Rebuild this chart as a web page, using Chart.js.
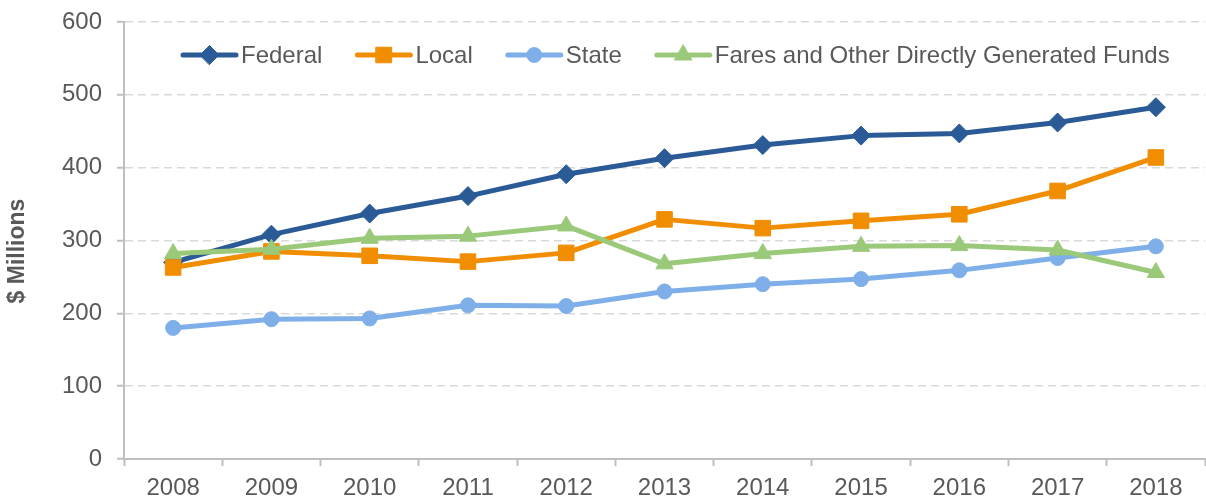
<!DOCTYPE html>
<html>
<head>
<meta charset="utf-8">
<script src="https://cdn.jsdelivr.net/npm/chart.js@4.4.0/dist/chart.umd.min.js"></script>
<style>
  body { margin: 0; background: #fff; }
  canvas { display: block; }
</style>
</head>
<body>
<canvas id="myChart" width="1206" height="499"></canvas>
<script>
var years = ['2008', '2009', '2010', '2011', '2012', '2013', '2014', '2015', '2016', '2017', '2018'];
var federal = [270, 308, 337, 361, 391, 413, 431, 444, 447, 462, 483];
var local = [263, 285, 279, 271, 283, 329, 317, 327, 336, 368, 414];
var state = [180, 192, 193, 211, 210, 230, 240, 247, 259, 276, 292];
var fares = [282, 288, 303, 306, 320, 268, 282, 292, 293, 287, 256];
var y_ticks = [0, 100, 200, 300, 400, 500, 600];

var font_family = '"Liberation Sans", Arial, sans-serif';
var text_color = '#595959';
var axis_color = '#bfbfbf';

function series(label, data, color, style, radius, order) {
    return {
        label: label,
        data: data,
        borderColor: color,
        backgroundColor: color,
        borderWidth: 5,
        borderCapStyle: 'round',
        borderJoinStyle: 'round',
        pointStyle: style,
        pointRadius: radius,
        pointHoverRadius: radius,
        pointBackgroundColor: color,
        pointBorderColor: color,
        pointBorderWidth: 1,
        tension: 0,
        clip: false,
        order: order
    };
}

// legend drawn as line + marker, like the original
var lineLegend = {
    id: 'lineLegend',
    afterDraw: function(chart) {
        var ctx = chart.ctx;
        var x = 181;
        var y = 55;
        ctx.save();
        ctx.font = '24px ' + font_family;
        ctx.textBaseline = 'middle';
        ctx.textAlign = 'left';
        chart.data.datasets.forEach(function(ds) {
            ctx.strokeStyle = ds.borderColor;
            ctx.lineWidth = 5;
            ctx.lineCap = 'round';
            ctx.beginPath();
            ctx.moveTo(x + 2, y);
            ctx.lineTo(x + 55, y);
            ctx.stroke();
            ctx.fillStyle = ds.borderColor;
            ctx.lineWidth = 1;
            Chart.helpers.drawPoint(ctx, { pointStyle: ds.pointStyle, radius: ds.pointRadius, borderWidth: 1, rotation: 0 }, x + 28.5, y);
            ctx.fillStyle = text_color;
            ctx.fillText(ds.label, x + 60, y + 1);
            x = x + 60 + ctx.measureText(ds.label).width + 33;
        });
        ctx.restore();
    }
};

var yTitle = {
    id: 'yTitle',
    afterDraw: function(chart) {
        var ctx = chart.ctx;
        ctx.save();
        ctx.translate(18, 251);
        ctx.rotate(-Math.PI / 2);
        ctx.font = 'bold 23px ' + font_family;
        ctx.fillStyle = text_color;
        ctx.textAlign = 'center';
        ctx.textBaseline = 'middle';
        ctx.fillText('$ Millions', 0, 0);
        ctx.restore();
    }
};

var ctx = document.getElementById('myChart').getContext('2d');
var myChart = new Chart(ctx, {
    type: 'line',
    data: {
        labels: years,
        datasets: [
            series('Federal', federal, '#2b5b96', 'rectRot', 9.5, 4),
            series('Local', local, '#f18d00', 'rect', 11, 3),
            series('State', state, '#7fafe9', 'circle', 7.5, 2),
            series('Fares and Other Directly Generated Funds', fares, '#9bc97a', 'triangle', 10, 1)
        ]
    },
    options: {
        responsive: false,
        devicePixelRatio: 1,
        animation: false,
        layout: { autoPadding: false, padding: { left: 0, top: 22, right: 1, bottom: 0 } },
        plugins: {
            legend: { display: false },
            tooltip: { enabled: false }
        },
        scales: {
            x: {
                offset: true,
                grid: {
                    offset: true,
                    drawOnChartArea: false,
                    tickLength: 7,
                    tickColor: axis_color,
                    tickWidth: 2
                },
                border: { color: axis_color, width: 2 },
                ticks: {
                    color: text_color,
                    font: { family: font_family, size: 24 },
                    padding: 8,
                    maxRotation: 0,
                    autoSkip: false
                },
                afterFit: function(scale) {
                    scale.height = 40;
                    scale.paddingLeft = 0;
                    scale.paddingRight = 0;
                }
            },
            y: {
                min: 0,
                max: 600,
                afterBuildTicks: function(scale) {
                    scale.ticks = y_ticks.map(function(v) { return { value: v }; });
                },
                grid: {
                    color: '#d9d9d9',
                    lineWidth: 1.5,
                    tickLength: 7,
                    tickColor: axis_color,
                    tickWidth: 2
                },
                border: { color: axis_color, width: 2, dash: [8, 5] },
                ticks: {
                    color: text_color,
                    font: { family: font_family, size: 24 },
                    padding: 15
                },
                afterFit: function(scale) {
                    scale.width = 124;
                    scale.paddingTop = 0;
                    scale.paddingBottom = 0;
                }
            }
        }
    },
    plugins: [lineLegend, yTitle]
});
</script>
</body>
</html>
